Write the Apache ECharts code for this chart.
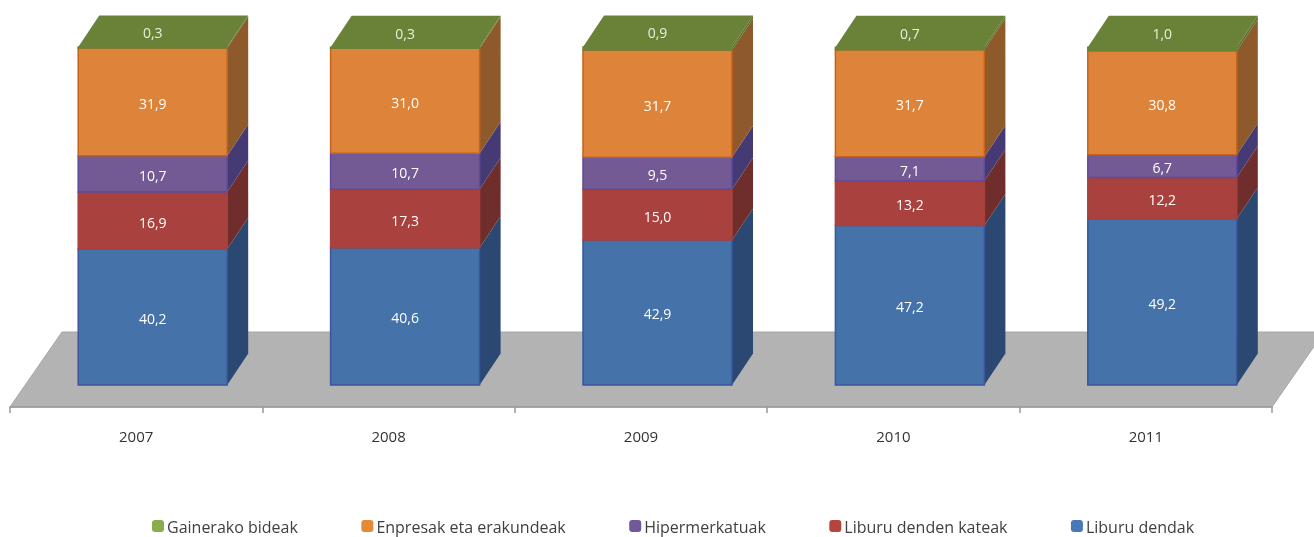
<!DOCTYPE html>
<html><head><meta charset="utf-8">
<style>html,body{margin:0;padding:0;background:#fff}#c{width:1314px;height:537px}</style>
<script src="https://cdn.jsdelivr.net/npm/echarts@6/dist/echarts.min.js"></script>
</head><body><div id="c"></div>
<script>
const years = ['2007','2008','2009','2010','2011'];
const liburuDendak = [40.2,40.6,42.9,47.2,49.2];
const liburuKateak = [16.9,17.3,15.0,13.2,12.2];
const hipermerkatuak = [10.7,10.7,9.5,7.1,6.7];
const enpresak = [31.9,31.0,31.7,31.7,30.8];
const gainerako = [0.3,0.3,0.9,0.7,1.0];

const FONT = '"Open Sans", sans-serif';
const BAR_W = 149, BAR_SHIFT = 16.5, DX = 21, DY = -31.5;

const stackDefs = [
  {name:'Liburu dendak', values:liburuDendak, front:'#4472a9', side:'#2a4872', edge:'#3a56a0', legend:'#4779b9'},
  {name:'Liburu denden kateak', values:liburuKateak, front:'#a9423f', side:'#6f2e2c', edge:'#a8403c', legend:'#b4453c'},
  {name:'Hipermerkatuak', values:hipermerkatuak, front:'#735a94', side:'#453a73', edge:'#5f4a9c', legend:'#70599b'},
  {name:'Enpresak eta erakundeak', values:enpresak, front:'#dd843a', side:'#8f5a2b', edge:'#c8621a', legend:'#e38a36'},
  {name:'Gainerako bideak', values:gainerako, front:'#6a8238', side:'#5c7030', edge:'#6a8238', top:'#6a8238', legend:'#8cab4c'}
];

const fmt = v => v.toFixed(1).replace('.', ',');
const running = years.map(() => 0);

const series = stackDefs.map(def => {
  const data = def.values.map((v, i) => {
    const row = [i, running[i], running[i] + v, v];
    running[i] += v;
    return row;
  });
  return {
    type:'custom', name:def.name, data,
    encode:{x:0, y:[1,2]},
    itemStyle:{color:def.legend},
    z:3,
    renderItem(params, api){
      const i = api.value(0);
      const cx = api.coord([i, 0])[0] + BAR_SHIFT;
      const y0 = api.coord([i, api.value(1)])[1];
      const y1 = api.coord([i, api.value(2)])[1];
      const x0 = cx - BAR_W / 2, x1 = cx + BAR_W / 2;
      const kids = [];
      kids.push({type:'polygon', shape:{points:[[x1,y1],[x1+DX,y1+DY],[x1+DX,y0+DY],[x1,y0]]}, style:{fill:def.side}});
      kids.push({type:'rect', shape:{x:x0, y:y1, width:BAR_W, height:y0-y1}, style:{fill:def.front, stroke:def.edge, lineWidth:1.5}});
      let ly = (y0 + y1) / 2 + 3;
      if (def.top) {
        kids.push({type:'polygon', shape:{points:[[x0,y1],[x0+DX,y1+DY],[x1+DX,y1+DY],[x1,y1]]}, style:{fill:def.top}});
        ly = y1 + DY / 2 + 3;
      }
      kids.push({type:'text', style:{text:fmt(api.value(3)), x:cx, y:ly, align:'center', verticalAlign:'middle',
        fill: def.top ? '#e8eedb' : '#ffffff', font:'14px ' + FONT}, z2:10});
      return {type:'group', children:kids};
    }
  };
});

const chart = echarts.init(document.getElementById('c'), null, {renderer:'canvas'});
chart.setOption({
  animation:false,
  backgroundColor:'#ffffff',
  grid:{left:10, width:1262, top:47, height:338, containLabel:false},
  xAxis:{type:'category', data:years, offset:22,
    axisLine:{onZero:false, lineStyle:{color:'#999999', width:1.5}},
    axisTick:{show:true, length:6, lineStyle:{color:'#999999', width:1.5}},
    axisLabel:{color:'#333333', fontSize:15, fontFamily:FONT, margin:23, interval:0},
    splitLine:{show:false}},
  yAxis:{type:'value', min:0, max:100, show:false, splitLine:{show:false}},
  legend:{
    top:520, left:152, padding:0, itemWidth:12, itemHeight:12, itemGap:63.5, icon:'roundRect',
    formatter: name => '{a|' + name + '}',
    textStyle:{color:'#404040', fontSize:16, fontFamily:FONT, padding:[0,0,0,-2],
      rich:{a:{color:'#404040', fontSize:16, fontFamily:FONT, padding:[5,0,0,0]}}},
    data:stackDefs.slice().reverse().map(d => d.name)
  },
  graphic:[{type:'polygon', z:-1, silent:true,
    shape:{points:[[10,407],[62,332],[1324,332],[1272,407]]},
    style:{fill:'#b3b3b3', stroke:'#a6a6a6', lineWidth:1}}],
  series
});
</script></body></html>
